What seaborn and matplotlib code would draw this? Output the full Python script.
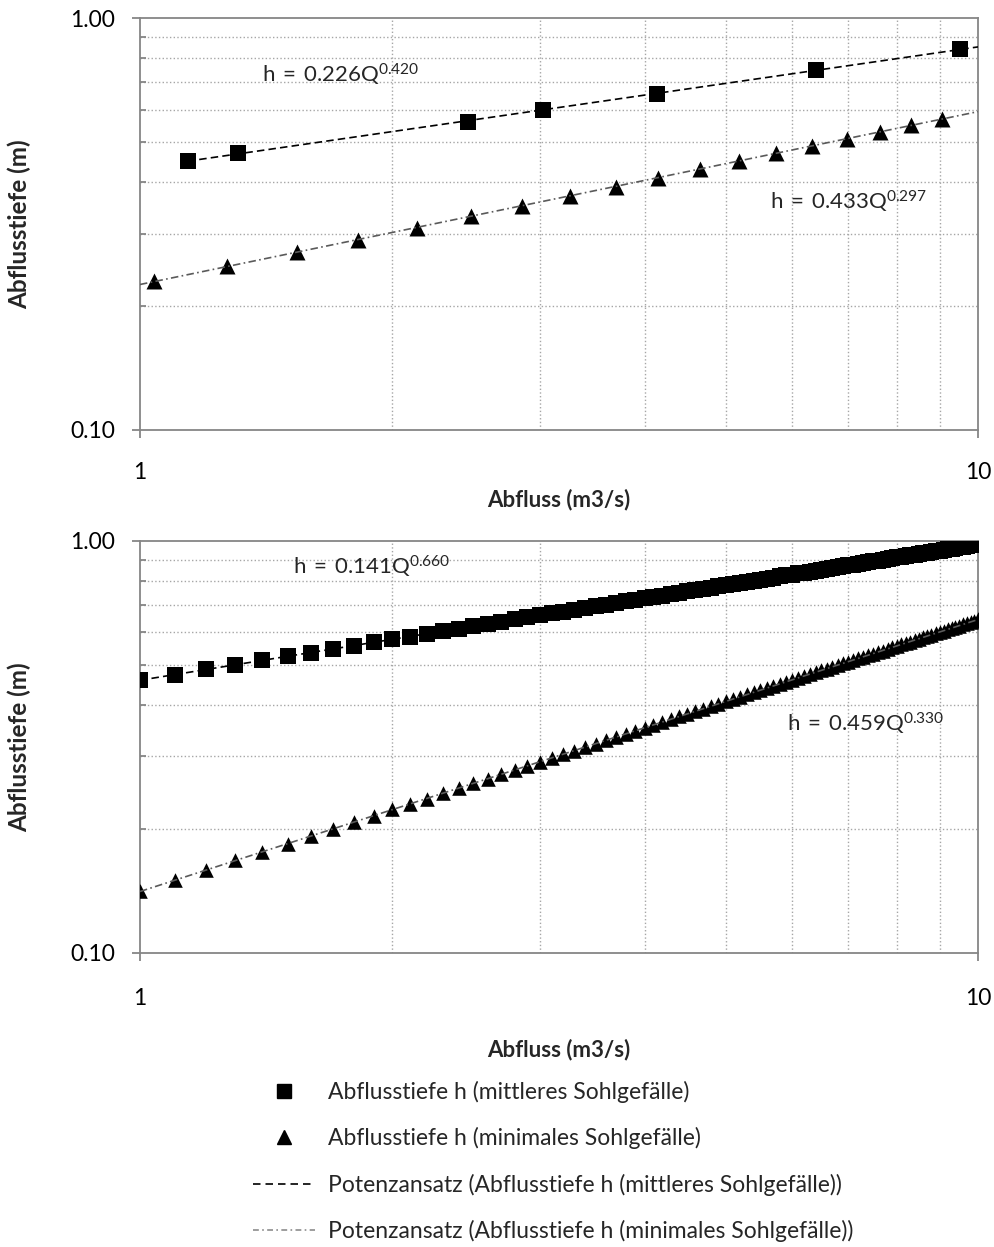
import numpy as np
import matplotlib
matplotlib.use("Agg")
import matplotlib.pyplot as plt
from matplotlib.lines import Line2D
from matplotlib.ticker import FixedLocator, FuncFormatter, NullFormatter
import seaborn as sns

# oberes Diagramm
Q_oben_mittel = [1.14, 1.31, 2.46, 3.03, 4.14, 6.41, 9.52]
h_oben_mittel = [0.45, 0.47, 0.56, 0.60, 0.655, 0.75, 0.84]
Q_oben_min = [1.04, 1.27, 1.54, 1.82, 2.14, 2.48, 2.86, 3.26, 3.70,
              4.15, 4.66, 5.19, 5.74, 6.34, 6.98, 7.64, 8.32, 9.06]
h_oben_min = [0.23, 0.25, 0.27, 0.29, 0.31, 0.33, 0.35, 0.37, 0.39,
              0.41, 0.43, 0.45, 0.47, 0.49, 0.51, 0.53, 0.55, 0.57]

# unteres Diagramm
Q_unten = [1.0, 1.1, 1.2, 1.3, 1.4, 1.5, 1.6, 1.7, 1.8, 1.9,
           2.0, 2.1, 2.2, 2.3, 2.4, 2.5, 2.6, 2.7, 2.8, 2.9,
           3.0, 3.1, 3.2, 3.3, 3.4, 3.5, 3.6, 3.7, 3.8, 3.9,
           4.0, 4.1, 4.2, 4.3, 4.4, 4.5, 4.6, 4.7, 4.8, 4.9,
           5.0, 5.1, 5.2, 5.3, 5.4, 5.5, 5.6, 5.7, 5.8, 5.9,
           6.0, 6.1, 6.2, 6.3, 6.4, 6.5, 6.6, 6.7, 6.8, 6.9,
           7.0, 7.1, 7.2, 7.3, 7.4, 7.5, 7.6, 7.7, 7.8, 7.9,
           8.0, 8.1, 8.2, 8.3, 8.4, 8.5, 8.6, 8.7, 8.8, 8.9,
           9.0, 9.1, 9.2, 9.3, 9.4, 9.5, 9.6, 9.7, 9.8, 9.9, 10.0]
h_unten_mittel = [0.459, 0.474, 0.488, 0.501, 0.513, 0.525, 0.536, 0.547, 0.557, 0.567,
                  0.577, 0.586, 0.595, 0.604, 0.613, 0.621, 0.629, 0.637, 0.645, 0.652,
                  0.660, 0.667, 0.674, 0.681, 0.687, 0.694, 0.701, 0.707, 0.713, 0.719,
                  0.725, 0.731, 0.737, 0.743, 0.748, 0.754, 0.760, 0.765, 0.770, 0.776,
                  0.781, 0.786, 0.791, 0.796, 0.801, 0.806, 0.810, 0.815, 0.820, 0.825,
                  0.829, 0.834, 0.838, 0.843, 0.847, 0.851, 0.856, 0.860, 0.864, 0.868,
                  0.872, 0.876, 0.881, 0.885, 0.889, 0.892, 0.896, 0.900, 0.904, 0.908,
                  0.912, 0.915, 0.919, 0.923, 0.927, 0.930, 0.934, 0.937, 0.941, 0.944,
                  0.948, 0.951, 0.955, 0.958, 0.962, 0.965, 0.968, 0.972, 0.975, 0.978, 0.981]
h_unten_min = [0.141, 0.150, 0.159, 0.168, 0.176, 0.184, 0.192, 0.200, 0.208, 0.215,
               0.223, 0.230, 0.237, 0.244, 0.251, 0.258, 0.265, 0.272, 0.278, 0.285,
               0.291, 0.298, 0.304, 0.310, 0.316, 0.322, 0.328, 0.334, 0.340, 0.346,
               0.352, 0.358, 0.364, 0.369, 0.375, 0.381, 0.386, 0.392, 0.397, 0.403,
               0.408, 0.413, 0.419, 0.424, 0.429, 0.434, 0.440, 0.445, 0.450, 0.455,
               0.460, 0.465, 0.470, 0.475, 0.480, 0.485, 0.490, 0.495, 0.500, 0.505,
               0.509, 0.514, 0.519, 0.524, 0.528, 0.533, 0.538, 0.542, 0.547, 0.552,
               0.556, 0.561, 0.565, 0.570, 0.574, 0.579, 0.583, 0.588, 0.592, 0.597,
               0.601, 0.606, 0.610, 0.614, 0.619, 0.623, 0.627, 0.632, 0.636, 0.640, 0.645]

gleichungen_oben = [("0.226", "0.420", 0.146, 0.862), ("0.433", "0.297", 0.752, 0.553)]
gleichungen_unten = [("0.141", "0.660", 0.183, 0.937), ("0.459", "0.330", 0.772, 0.557)]

legende = ["Abflusstiefe h (mittleres Sohlgefälle)",
           "Abflusstiefe h (minimales Sohlgefälle)",
           "Potenzansatz (Abflusstiefe h (mittleres Sohlgefälle))",
           "Potenzansatz (Abflusstiefe h (minimales Sohlgefälle))"]

GRAU = "#868686"
STRICH = (0, (4.5, 2.5))
STRICHPUNKT = (0, (4.5, 2, 1, 2))

sns.set_theme(style="ticks")
plt.rcParams["font.family"] = ["Lato", "DejaVu Sans"]
plt.rcParams["mathtext.fontset"] = "custom"
plt.rcParams["mathtext.rm"] = "Lato"


def potenz(Q, h, q_von, q_bis):
    b, log_a = np.polyfit(np.log(Q), np.log(h), 1)
    q = np.geomspace(q_von, q_bis, 200)
    return q, np.exp(log_a) * q ** b


def achse(ax, xpad, xlab_y):
    ax.set_xscale("log")
    ax.set_yscale("log")
    ax.set_xlim(1, 10)
    ax.set_ylim(0.1, 1.0)
    ax.xaxis.set_major_locator(FixedLocator([1, 10]))
    ax.xaxis.set_major_formatter(FuncFormatter(lambda v, p: f"{v:g}"))
    ax.xaxis.set_minor_locator(FixedLocator(range(2, 10)))
    ax.xaxis.set_minor_formatter(NullFormatter())
    ax.yaxis.set_major_locator(FixedLocator([0.1, 1.0]))
    ax.yaxis.set_major_formatter(FuncFormatter(lambda v, p: f"{v:.2f}"))
    ax.yaxis.set_minor_locator(FixedLocator([0.2, 0.3, 0.4, 0.5, 0.6, 0.7, 0.8, 0.9]))
    ax.yaxis.set_minor_formatter(NullFormatter())
    ax.grid(which="minor", color="#a6a6a6", linestyle=":", linewidth=1.0)
    ax.grid(which="major", visible=False)
    for s in ax.spines.values():
        s.set_color(GRAU)
        s.set_linewidth(1.3)
        s.set_visible(True)
    ax.tick_params(which="major", direction="out", length=6, width=1.3, color=GRAU,
                   labelsize=16.5, labelcolor="black")
    ax.tick_params(axis="x", which="major", pad=xpad)
    ax.tick_params(axis="y", which="major", pad=12)
    ax.tick_params(axis="x", which="minor", length=0)
    ax.tick_params(axis="y", which="minor", direction="in", length=4, width=1.3, color=GRAU)
    ax.set_xlabel("Abfluss (m3/s)", fontsize=16, fontweight="bold")
    ax.set_ylabel("Abflusstiefe (m)", fontsize=17.5, fontweight="bold")
    ax.xaxis.set_label_coords(0.5, xlab_y)
    ax.yaxis.set_label_coords(-0.13, 0.5)


def diagramm(ax, Qm, hm, Qn, hn, q_start_m, gleichungen, ms_q, ms_t):
    sns.scatterplot(x=Qm, y=hm, marker="s", s=ms_q ** 2, color="black", linewidth=0,
                    ax=ax, zorder=3, legend=False)
    sns.scatterplot(x=Qn, y=hn, marker="^", s=ms_t ** 2, color="black", linewidth=0,
                    ax=ax, zorder=3, legend=False)
    qm, fm = potenz(Qm, hm, q_start_m, 10)
    qn, fn = potenz(Qn, hn, 1, 10)
    sns.lineplot(x=qm, y=fm, ax=ax, color="black", linewidth=1.2, linestyle=STRICH,
                 zorder=4, errorbar=None)
    sns.lineplot(x=qn, y=fn, ax=ax, color="#5a5a5a", linewidth=1.2, linestyle=STRICHPUNKT,
                 zorder=4, errorbar=None)
    for a, b, x, y in gleichungen:
        ax.text(x, y, rf"$\mathregular{{h\,=\,{a}Q^{{{b}}}}}$", transform=ax.transAxes,
                fontsize=16, ha="left", va="center", zorder=5)


fig = plt.figure(figsize=(9.94, 12.47), dpi=100)
ax1 = fig.add_axes([0.1408, 0.6552, 0.8431, 0.3302])
ax2 = fig.add_axes([0.1408, 0.2358, 0.8431, 0.3304])

diagramm(ax1, Q_oben_mittel, h_oben_mittel, Q_oben_min, h_oben_min,
         Q_oben_mittel[0], gleichungen_oben, 12, 11.5)
diagramm(ax2, Q_unten, h_unten_mittel, Q_unten, h_unten_min,
         1, gleichungen_unten, 11, 10.5)
achse(ax1, 17, -0.143)
achse(ax2, 19, -0.209)

griffe = [Line2D([], [], marker="s", color="black", linestyle="none", markersize=9.5),
          Line2D([], [], marker="^", color="black", linestyle="none", markersize=9.5),
          Line2D([], [], color="black", linewidth=1.2, linestyle=(0, (4.5, 3))),
          Line2D([], [], color="#8c8c8c", linewidth=1.2, linestyle=(0, (3.5, 2, 1, 2)))]
fig.legend(griffe, legende, loc="upper left", bbox_to_anchor=(253 / 994, 1 - 1081 / 1247),
           frameon=False, fontsize=16.5, handlelength=2.7, handletextpad=0.57,
           labelspacing=1.06, borderpad=0, borderaxespad=0)

fig.savefig("out.png", dpi=100)
